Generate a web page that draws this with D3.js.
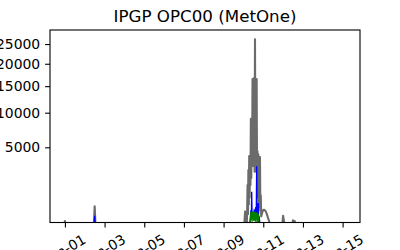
<!DOCTYPE html>
<html>
<head>
<meta charset="utf-8">
<script src="https://cdn.jsdelivr.net/npm/d3@7"></script>
<style>
body{margin:0;background:#fff;}
text{font-family:"DejaVu Sans",sans-serif;}
</style>
</head>
<body>
<div class="chart"></div>
<script>
/*Data (hours after Jan-01 00:00)*/
const grayHours = [-1,0,1,35,36,37,217,218,219,220,220.5,221,221.5,222,222.5,223,223.5,224,224.5,225,225.5,226,226.5,227,227.5,228,228.5,229,229.5,230,230.5,231,231.5,232,232.5,233,233.5,234,234.5,235,235.5,236,236.5,237,237.5,238,239,240,241,242,243,244,245,246,247,248,249,263,264,265,266,275,276,277,278,279,340];
const grayValues = [20,70,20,20,430,20,20,270,20,20,300,1500,200,2650,500,4000,800,3800,1500,9000,2000,8500,3000,16500,4000,15600,3000,16800,2500,26300,3000,16000,2500,16500,1500,4500,800,4200,600,2000,400,3900,300,900,150,180,260,310,320,300,270,220,160,110,70,40,20,20,160,70,20,20,80,45,70,20,20];

const blueHours = [-1,35,36,37,223,224,225,225.5,226,226.5,227,228,229,230,231,231.5,232,232.5,233,233.5,234,234.5,235,236,237,340];
const blueValues = [5,5,160,5,5,60,300,80,1100,150,250,180,300,250,400,150,3000,200,400,120,560,100,150,30,5,5];

const greenHours = [-1,224,224.5,225,225.5,226,226.5,227,227.5,228,228.5,229,229.5,230,230.5,231,231.5,232,232.5,233,233.5,234,234.5,235,340];
const greenValues = [10,10,120,260,90,250,60,265,100,240,70,255,80,260,60,250,90,240,50,230,60,200,40,10,10];

const xTickDays = [1,3,5,7,9,11,13,15];
const yTicks = [5000,10000,15000,20000,25000];

const base = Date.UTC(2021,0,1);
const toDate = h => new Date(base + h*3600*1000);

/*Chart area*/
const W = 400, H = 250;
const margin = {top:30, bottom:27.5, left:50, right:40};
const width = W - margin.left - margin.right,
height = H - margin.top - margin.bottom;

const svg = d3.select(".chart").append("svg")
  .attr("width", W)
  .attr("height", H);

const g = svg.append("g")
  .attr("transform", "translate(" + margin.left + "," + margin.top + ")");

/*Scales*/
const t0 = d3.min(grayHours), t1 = d3.max(grayHours);
const pad = (t1 - t0) * 0.05;
const xScale = d3.scaleUtc()
  .domain([toDate(t0 - pad), toDate(t1 + pad)])
  .range([0, width]);

const yScale = d3.scaleSqrt()
  .domain([50, 28900])
  .range([height, 0]);

g.append("clipPath").attr("id","clip")
  .append("rect").attr("width", width).attr("height", height);

/*Lines*/
function series(hours, values){
  return hours.map((h,i) => ({t: toDate(h), v: values[i]}));
}
const line = d3.line().x(d => xScale(d.t)).y(d => yScale(d.v));

const plot = g.append("g").attr("clip-path","url(#clip)");
plot.append("path").datum(series(grayHours, grayValues))
  .attr("d", line).attr("fill","none").attr("stroke","#6b6b6b")
  .attr("stroke-width",2.1).attr("stroke-linejoin","round");
plot.append("path").datum(series(blueHours, blueValues))
  .attr("d", line).attr("fill","none").attr("stroke","blue")
  .attr("stroke-width",1.3);
plot.append("path").datum(series(greenHours, greenValues))
  .attr("d", line).attr("fill","none").attr("stroke","green")
  .attr("stroke-width",1.3);

/*Axes*/
const xAxis = d3.axisBottom(xScale)
  .tickValues(xTickDays.map(d => new Date(Date.UTC(2021,0,d))))
  .tickFormat(d3.utcFormat("%b-%d"))
  .tickSize(4.9).tickPadding(0);
const gx = g.append("g")
  .attr("transform", `translate(0, ${height})`)
  .call(xAxis);
gx.select(".domain").remove();
gx.selectAll("line").attr("stroke-width",1.1);
gx.selectAll("text")
  .attr("font-size","13.9px")
  .attr("fill","#000")
  .attr("text-anchor","middle")
  .attr("dy",null).attr("y",null)
  .attr("dominant-baseline","central")
  .attr("transform","translate(0,26.5) rotate(-30)");

const yAxis = d3.axisLeft(yScale)
  .tickValues(yTicks)
  .tickFormat(d3.format("d"))
  .tickSize(4.9).tickPadding(4.9);
const gy = g.append("g").call(yAxis);
gy.select(".domain").remove();
gy.selectAll("line").attr("stroke-width",1.1);
gy.selectAll("text").attr("font-size","13.9px").attr("fill","#000");

/*Frame*/
g.append("rect")
  .attr("width", width).attr("height", height)
  .attr("fill","none").attr("stroke","#000").attr("stroke-width",1.1);

/*Title*/
svg.append("text")
  .attr("x", margin.left + width/2)
  .attr("y", margin.top - 8.3)
  .attr("text-anchor","middle")
  .attr("font-size","16.7px")
  .text("IPGP OPC00 (MetOne)");
</script>
</body>
</html>
